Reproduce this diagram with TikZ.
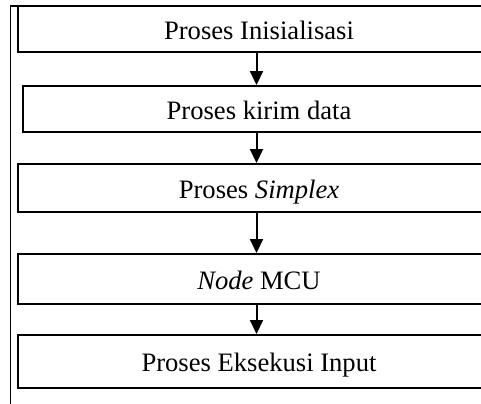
\documentclass[tikz,border=0pt]{standalone}
\usepackage{fontspec}
\setmainfont{Liberation Serif}
\usetikzlibrary{arrows.meta}

\tikzset{
  stepbox/.style={draw, line width=1pt, minimum width=241pt, inner sep=0pt,
    text height=10pt, text depth=0pt, font=\fontsize{13.3pt}{16pt}\selectfont},
  arr/.style={line width=1pt, -{Triangle[length=7pt,width=6.5pt]}},
  frame/.style={line width=0.8pt}
}

\begin{document}
\begin{tikzpicture}[x=0.5pt,y=-0.5pt]
  \useasboundingbox (0,0) rectangle (481,403);
  \clip (0,0) rectangle (481,403);

  % outer frame (left and top sides)
  \draw[frame] (495,5.7) -| (10.5,410);

  % process steps
  \node[stepbox, minimum height=23.2pt] (b1) at (259,29)    {Proses Inisialisasi};
  \node[stepbox, minimum height=23pt, minimum width=236pt] (b2) at (259,109) {Proses kirim data};
  \node[stepbox, minimum height=24pt]   (b3) at (259,188)   {Proses \textit{Simplex}};
  \node[stepbox, minimum height=25pt]   (b4) at (259,279)   {\textit{Node} MCU};
  \node[stepbox, minimum height=26.5pt] (b5) at (259,361.5) {Proses Eksekusi Input};

  % flow arrows
  \coordinate (ax) at (256.5,0);
  \draw[arr] (b1.south -| ax) -- (b2.north -| ax);
  \draw[arr] (b2.south -| ax) -- (b3.north -| ax);
  \draw[arr] (b3.south -| ax) -- (b4.north -| ax);
  \draw[arr] (b4.south -| ax) -- (b5.north -| ax);
\end{tikzpicture}
\end{document}
